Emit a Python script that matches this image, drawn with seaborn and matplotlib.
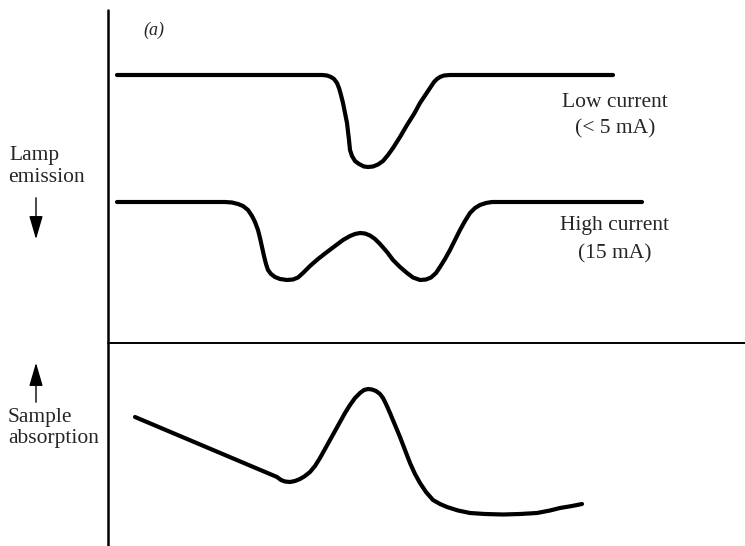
import numpy as np
import pandas as pd
import matplotlib
matplotlib.use('Agg')
import matplotlib.pyplot as plt
import seaborn as sns

# curves (x = wavelength position, y = depth on the page)
low_x = [117, 322, 327, 331, 334, 337, 339, 341, 343, 345, 347, 349, 350, 352, 355, 359, 364,
         368, 373, 378, 383, 388, 393, 400, 407, 414, 420, 426, 430, 434, 437, 440, 444, 450, 613]
low_y = [75, 75, 75.5, 77, 79, 83, 88, 95, 103, 113, 123, 140, 150, 156, 161, 164, 166.5,
         167, 166.5, 164.5, 161, 155, 148, 137, 125, 114, 103, 94, 88, 82, 79, 77, 75.5, 75, 75]

high_x = [117, 225, 232, 238, 243, 248, 252, 255, 258, 260, 262, 264, 266, 268, 271, 275, 280,
          287, 293, 298, 303, 310, 318, 327, 335, 343, 350, 355, 360, 365, 370, 375, 380, 387,
          393, 400, 407, 413, 420, 426, 431, 436, 440, 445, 450, 455, 460, 465, 470, 475, 480,
          486, 492, 497, 642]
high_y = [202, 202, 202.5, 204, 206, 210, 216, 222, 230, 238, 247, 256, 264, 270, 274, 277, 279,
          280, 279.5, 277.5, 273, 266, 259, 252, 246, 240, 236, 234, 233, 233.5, 235.5, 239, 244, 252,
          260, 267, 273, 277.5, 280, 279.5, 277.5, 273, 267, 259, 250, 240, 230, 221, 213, 208, 205,
          203, 202, 202, 202]

abs_x = [135, 277, 281, 285, 290, 295, 300, 305, 310, 315, 320, 325, 330, 335, 340, 345, 350,
         355, 360, 364, 368, 372, 376, 380, 383, 386, 390, 395, 400, 405, 410, 415, 420, 426,
         433, 440, 447, 458, 470, 485, 503, 520, 537, 550, 560, 572, 582]
abs_y = [417, 477, 480, 481.5, 482, 481, 479, 476, 472, 466, 458, 449, 440, 431, 422, 413, 405,
         398, 393, 390, 389, 389.5, 391, 394, 398, 404, 413, 425, 437, 450, 463, 474, 483, 492,
         500, 504, 507, 510.5, 513, 514, 514.5, 514, 513, 510.5, 508, 506, 504]

low_label = ['Low current', '(< 5 mA)']
high_label = ['High current', '(15 mA)']
left_top = ['Lamp', 'emission']
left_bottom = ['Sample', 'absorption']

sns.set_theme(style='white')
plt.rcParams['font.family'] = ['Liberation Serif', 'DejaVu Serif']

fig = plt.figure(figsize=(7.45, 5.46), dpi=100)
ax = fig.add_axes([0, 0, 1, 1])
ax.set_xlim(0, 745)
ax.set_ylim(546, 0)
ax.axis('off')

df = pd.concat([
    pd.DataFrame({'x': low_x, 'y': low_y, 'trace': 'low'}),
    pd.DataFrame({'x': high_x, 'y': high_y, 'trace': 'high'}),
    pd.DataFrame({'x': abs_x, 'y': abs_y, 'trace': 'abs'}),
])
for name, d in df.groupby('trace'):
    sns.lineplot(x='x', y='y', data=d, ax=ax, color='black', lw=3.0, sort=False,
                 solid_joinstyle='round', solid_capstyle='round', legend=False)

# frame lines
ax.plot([108, 108], [10, 546], color='black', lw=1.8)
ax.plot([108, 745], [343, 343], color='black', lw=1.4)

fs = 15.5
ax.text(154, 30, '(a)', fontsize=13, style='italic', ha='center', va='center')
ax.text(615, 107, low_label[0], fontsize=fs, ha='center', va='baseline')
ax.text(615, 133, low_label[1], fontsize=fs, ha='center', va='baseline')
ax.text(615, 230, high_label[0], fontsize=fs, ha='center', va='baseline')
ax.text(615, 258, high_label[1], fontsize=fs, ha='center', va='baseline')
ax.text(9, 160, left_top[0], fontsize=fs, ha='left', va='baseline')
ax.text(8, 182, left_top[1], fontsize=fs, ha='left', va='baseline')
ax.text(8, 422, left_bottom[0], fontsize=fs, ha='left', va='baseline')
ax.text(8, 443, left_bottom[1], fontsize=fs, ha='left', va='baseline')

arw = dict(arrowstyle='-|>,head_length=1.2,head_width=0.35', color='black', lw=1.0)
ax.annotate('', xy=(36, 242), xytext=(36, 195), arrowprops=arw)
ax.annotate('', xy=(36, 360), xytext=(36, 405), arrowprops=arw)

fig.savefig('out.png', dpi=100)
